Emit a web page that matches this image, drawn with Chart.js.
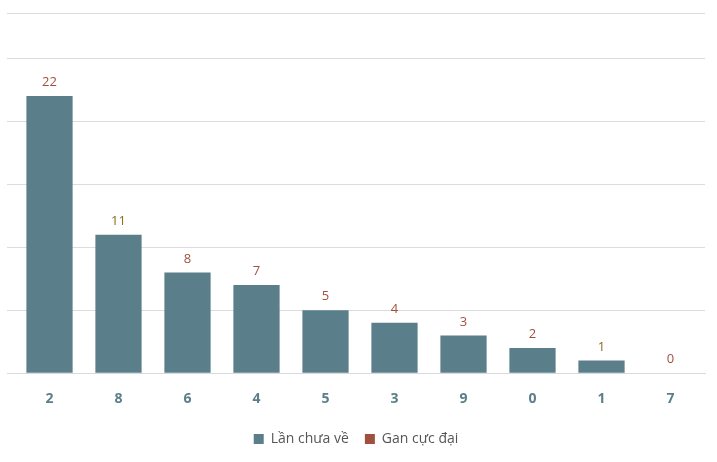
<!DOCTYPE html>
<html><head><meta charset="utf-8">
<script src="https://cdn.jsdelivr.net/npm/chart.js@4"></script>
<style>html,body{margin:0;background:#fff}#wrap{width:717px;height:462px}</style>
</head><body><div id="wrap"><canvas id="c"></canvas></div>
<script>
var categories = ['2','8','6','4','5','3','9','0','1','7'];
var lanChuaVe = [22,11,8,7,5,4,3,2,1,0];
var ganCucDai = [null,null,null,null,null,null,null,null,null,null];
var labelColors = ['#a0503f','#8c6a1c','#a0503f','#a0503f','#a0503f','#a0503f','#a0503f','#a0503f','#8c6a1c','#a0503f'];

var valueLabels = {
    id: 'valueLabels',
    afterDatasetsDraw: function (chart) {
        var c = chart.ctx, meta = chart.getDatasetMeta(0);
        c.save();
        c.font = '13px "Open Sans", "Noto Sans", sans-serif';
        c.textAlign = 'center';
        c.textBaseline = 'bottom';
        meta.data.forEach(function (bar, i) {
            c.fillStyle = labelColors[i];
            c.fillText(String(lanChuaVe[i]), bar.x, bar.y - 7);
        });
        c.restore();
    }
};

new Chart(document.getElementById('c'), {
    type: 'bar',
    data: {
        labels: categories,
        datasets: [
            { label: 'Lần chưa về', data: lanChuaVe, backgroundColor: '#5a7f8a', categoryPercentage: 1, barPercentage: 0.67, grouped: false },
            { label: 'Gan cực đại', data: ganCucDai, backgroundColor: '#a0503f', grouped: false }
        ]
    },
    options: {
        responsive: true,
        maintainAspectRatio: false,
        animation: false,
        layout: { padding: { left: 7, right: 12, top: 13, bottom: 6 } },
        plugins: {
            legend: {
                position: 'bottom',
                labels: { boxWidth: 10, boxHeight: 10, padding: 16, color: '#555', font: { size: 14, family: '"Open Sans", "Noto Sans", sans-serif' } }
            },
            tooltip: { enabled: false }
        },
        scales: {
            x: {
                grid: { display: false },
                border: { color: '#d9d9d9' },
                ticks: { color: '#5a7f8a', padding: 9, font: { size: 14, weight: 'bold', family: '"Open Sans", "Noto Sans", sans-serif' } }
            },
            y: {
                min: 0, max: 28.6,
                border: { display: false },
                grid: { color: '#dcdcdc' },
                ticks: { display: false, stepSize: 5 }
            }
        }
    },
    plugins: [valueLabels]
});
</script></body></html>
